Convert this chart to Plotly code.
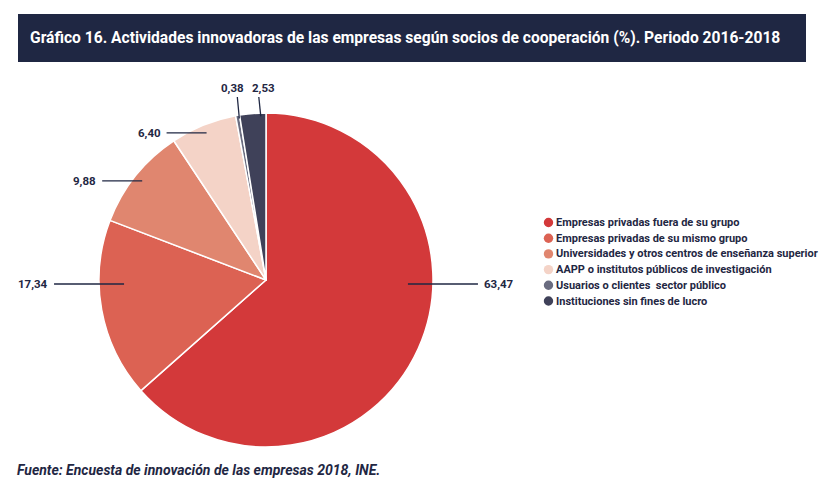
import math
import plotly.graph_objects as go

# Datos del gráfico 16 (porcentajes)
socios = ["Empresas privadas fuera de su grupo",
          "Empresas privadas de su mismo grupo",
          "Universidades y otros centros de enseñanza superior",
          "AAPP o institutos públicos de investigación",
          "Usuarios o clientes  sector público",
          "Instituciones sin fines de lucro"]
porcentajes = [63.47, 17.34, 9.88, 6.40, 0.38, 2.53]
colores = ["#D3393A", "#DC6253", "#E0866F", "#F4D3C7", "#6A6C80", "#3F4159"]

titulo = "Gráfico 16. Actividades innovadoras de las empresas según socios de cooperación (%). Periodo 2016-2018"
fuente = "Fuente: Encuesta de innovación de las empresas 2018, INE."

# la página tiene 8px de margen, la figura se ajusta a la ventana de 839x502
OFF = 8
W, H = 839 - 2 * OFF, 502 - 2 * OFF
cx, cy, R = 266, 280, 167
navy = "#1F2743"
letra = "Roboto, Arial, sans-serif"


def px(x, y):
    # coordenadas de pantalla -> papel
    return (x - OFF) / W, 1 - (y - OFF) / H


def linea(xa, ya, xb, yb):
    p0, p1 = px(xa, ya), px(xb, yb)
    return dict(type="line", xref="paper", yref="paper", x0=p0[0], y0=p0[1],
                x1=p1[0], y1=p1[1], line=dict(color=navy, width=1.3))


d0, d1 = px(cx - R, cy + R), px(cx + R, cy - R)
fig = go.Figure(go.Pie(
    labels=socios, values=porcentajes, sort=False, direction="clockwise",
    rotation=0, textinfo="none", hoverinfo="label+value", showlegend=False,
    marker=dict(colors=colores, line=dict(color="white", width=1.5)),
    domain=dict(x=[d0[0], d1[0]], y=[d0[1], d1[1]]),
))

shapes = []
annotations = []

# Banner del título
b0, b1 = px(18, 62), px(806, 14)
shapes.append(dict(type="rect", xref="paper", yref="paper", x0=b0[0], x1=b1[0],
                   y0=b0[1], y1=b1[1], fillcolor=navy, line=dict(width=0), layer="below"))
tx, ty = px(28, 38)
annotations.append(dict(text="<b>" + titulo + "</b>", xref="paper", yref="paper",
                        x=tx, y=ty, xanchor="left", yanchor="middle", showarrow=False,
                        font=dict(family=letra, size=15.6, color="white")))

# Etiquetas con líneas guía
total = sum(porcentajes)
acum = 0
n_vert = 0
for v in porcentajes:
    a0 = acum / total * 360
    a1 = (acum + v) / total * 360
    acum += v
    mid = (a0 + a1) / 2
    txt = "<b>" + f"{v:.2f}".replace(".", ",") + "</b>"
    fnt = dict(family=letra, size=11.5, color=navy)
    if min(mid, 360 - mid) < 15:
        # rebanadas pequeñas arriba: línea vertical
        t = math.radians(a0 + 0.8 * (a1 - a0))
        x0, y0 = cx + 0.98 * R * math.sin(t), cy - 0.98 * R * math.cos(t)
        x1, y1 = x0 - 2, 97
        shapes.append(linea(x0, y0, x1, y1))
        p = px(x1, y1)
        izq = n_vert == 0
        n_vert += 1
        annotations.append(dict(text=txt, xref="paper", yref="paper", x=p[0], y=p[1],
                                xanchor="right" if izq else "left", yanchor="bottom",
                                xshift=9 if izq else -9, showarrow=False, font=fnt))
        continue
    if a0 <= 90 <= a1 or a0 <= 270 <= a1:
        ang = 90 if a0 <= 90 <= a1 else 270
        t = math.radians(ang)
        x0, y0 = cx + 0.85 * R * math.sin(t), cy + 4
        largo = 70
    else:
        t = math.radians(mid)
        x0, y0 = cx + 0.95 * R * math.sin(t), cy - 0.95 * R * math.cos(t)
        largo = 40
    lado = 1 if math.sin(t) > 0 else -1
    x1 = x0 + lado * largo
    shapes.append(linea(x0, y0, x1, y0))
    p = px(x1, y0)
    annotations.append(dict(text=txt, xref="paper", yref="paper", x=p[0], y=p[1],
                            xanchor="left" if lado > 0 else "right", yanchor="middle",
                            xshift=4 * lado, showarrow=False, font=fnt))

# Leyenda con círculos
for i, (s, c) in enumerate(zip(socios, colores)):
    ly = 222.5 + i * 15.7
    q0, q1 = px(548.5 - 4.7, ly + 4.7), px(548.5 + 4.7, ly - 4.7)
    shapes.append(dict(type="circle", xref="paper", yref="paper",
                       x0=q0[0], x1=q1[0], y0=q0[1], y1=q1[1],
                       fillcolor=c, line=dict(width=0)))
    p = px(554, ly)
    annotations.append(dict(text="<b>" + s + "</b>", xref="paper", yref="paper",
                            x=p[0], y=p[1], xanchor="left", yanchor="middle", showarrow=False,
                            font=dict(family=letra, size=11, color=navy)))

# Fuente
p = px(15, 470)
annotations.append(dict(text="<b><i>" + fuente + "</i></b>", xref="paper", yref="paper",
                        x=p[0], y=p[1], xanchor="left", yanchor="middle", showarrow=False,
                        font=dict(family=letra, size=14, color=navy)))

fig.update_layout(width=W, height=H, margin=dict(l=0, r=0, t=0, b=0),
                  paper_bgcolor="white", plot_bgcolor="white",
                  shapes=shapes, annotations=annotations)

fig.write_html("out.html")
